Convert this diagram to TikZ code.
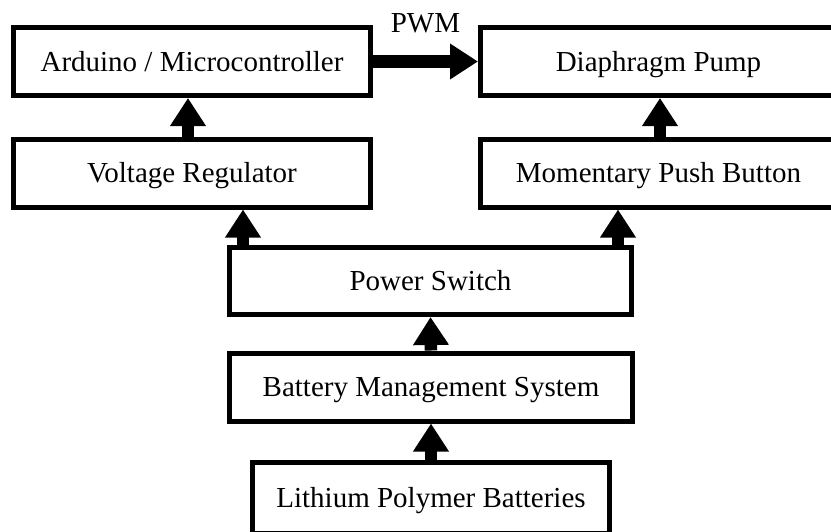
\documentclass[tikz,border=0pt]{standalone}
\usepackage{fontspec}
\setmainfont{Liberation Serif}
\usetikzlibrary{arrows.meta}

\tikzset{
    box/.style={draw, line width=5pt, minimum height=68pt, inner sep=0pt,
        font=\fontsize{29}{34}\selectfont, text height=22pt, text depth=3pt},
    bigarrow/.style={line width=12.5pt, -{Triangle[length=28pt, width=34pt]}}
}

\begin{document}
\begin{tikzpicture}[x=1pt, y=-1pt]
    \fill[white] (0,0) rectangle (831,531);
    \clip (0,0) rectangle (831,531);

    \node[box, minimum width=357pt] (arduino) at (192,61.5) {Arduino / Microcontroller};
    \node[box, minimum width=356pt] (pump) at (658.5,61.5) {Diaphragm Pump};
    \node[box, minimum width=357pt] (regulator) at (192,173) {Voltage Regulator};
    \node[box, minimum width=356pt] (button) at (658.5,173) {Momentary Push Button};
    \node[box, minimum width=402pt, minimum height=67pt] (switch) at (430.5,281) {Power Switch};
    \node[box, minimum width=403pt] (bms) at (431,387) {Battery Management System};
    \node[box, minimum width=357pt, minimum height=71pt] (lipo) at (431,498) {Lithium Polymer Batteries};

    \draw[bigarrow] (arduino.east) -- (pump.west)
        node[midway, yshift=39pt, inner sep=0pt, font=\fontsize{29}{34}\selectfont,
             text height=22pt, text depth=3pt] (pwm) {PWM};
    \draw[bigarrow] ([xshift=-4pt]regulator.north) -- ([xshift=-4pt]arduino.south);
    \draw[bigarrow] ([xshift=1.5pt]button.north) -- ([xshift=1.5pt]pump.south);
    \draw[bigarrow] ([xshift=16pt]switch.north west) -- ([xshift=16pt]switch.north west |- regulator.south);
    \draw[bigarrow] ([xshift=-16pt]switch.north east) -- ([xshift=-16pt]switch.north east |- button.south);
    \draw[bigarrow] (bms.north) -- (switch.south);
    \draw[bigarrow] (lipo.north) -- (bms.south);
\end{tikzpicture}
\end{document}
